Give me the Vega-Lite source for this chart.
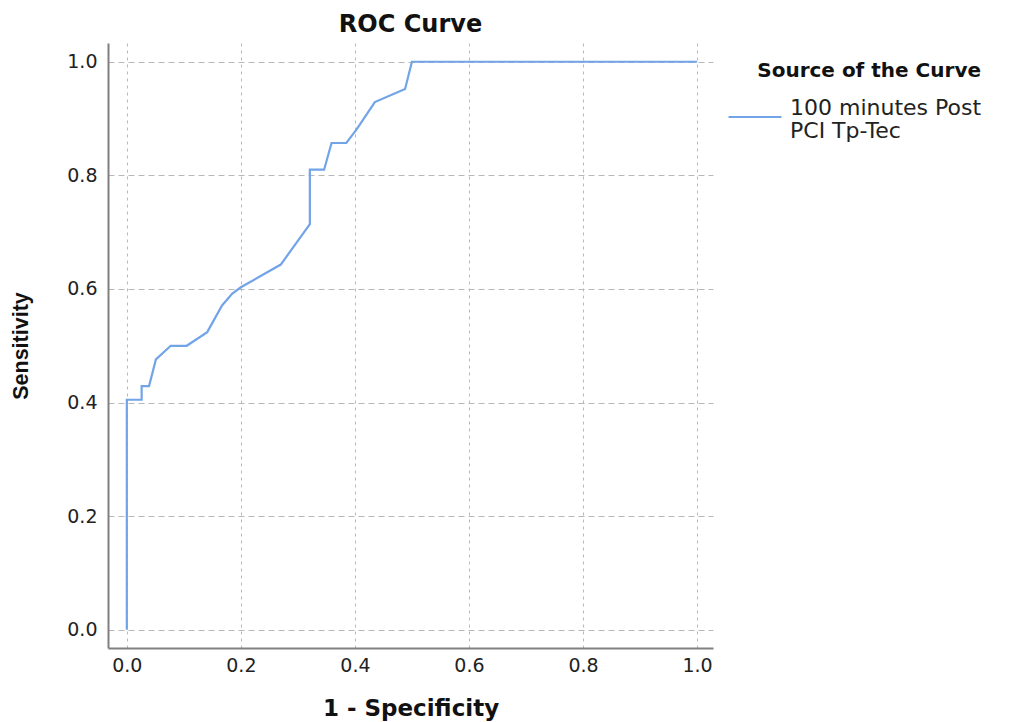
{
  "$schema": "https://vega.github.io/schema/vega-lite/v6.json",
  "width": 605,
  "height": 605,
  "autosize": "none",
  "padding": {"left": 108, "top": 43, "right": 297, "bottom": 74},
  "background": "white",
  "title": {"text": "ROC Curve", "font": "DejaVu Sans", "fontSize": 24, "fontWeight": "bold", "color": "#111", "anchor": "middle", "offset": 6},
  "config": {"view": {"stroke": null}},
  "data": {"values": [
    {"i": 0, "fpr": 0.0, "tpr": 0.0, "source": "100 minutes Post PCI Tp-Tec"},
    {"i": 1, "fpr": 0.0, "tpr": 0.405, "source": "100 minutes Post PCI Tp-Tec"},
    {"i": 2, "fpr": 0.026, "tpr": 0.405, "source": "100 minutes Post PCI Tp-Tec"},
    {"i": 3, "fpr": 0.026, "tpr": 0.429, "source": "100 minutes Post PCI Tp-Tec"},
    {"i": 4, "fpr": 0.039, "tpr": 0.429, "source": "100 minutes Post PCI Tp-Tec"},
    {"i": 5, "fpr": 0.051, "tpr": 0.476, "source": "100 minutes Post PCI Tp-Tec"},
    {"i": 6, "fpr": 0.077, "tpr": 0.5, "source": "100 minutes Post PCI Tp-Tec"},
    {"i": 7, "fpr": 0.105, "tpr": 0.5, "source": "100 minutes Post PCI Tp-Tec"},
    {"i": 8, "fpr": 0.141, "tpr": 0.524, "source": "100 minutes Post PCI Tp-Tec"},
    {"i": 9, "fpr": 0.167, "tpr": 0.571, "source": "100 minutes Post PCI Tp-Tec"},
    {"i": 10, "fpr": 0.185, "tpr": 0.592, "source": "100 minutes Post PCI Tp-Tec"},
    {"i": 11, "fpr": 0.2, "tpr": 0.603, "source": "100 minutes Post PCI Tp-Tec"},
    {"i": 12, "fpr": 0.27, "tpr": 0.643, "source": "100 minutes Post PCI Tp-Tec"},
    {"i": 13, "fpr": 0.321, "tpr": 0.714, "source": "100 minutes Post PCI Tp-Tec"},
    {"i": 14, "fpr": 0.321, "tpr": 0.81, "source": "100 minutes Post PCI Tp-Tec"},
    {"i": 15, "fpr": 0.346, "tpr": 0.81, "source": "100 minutes Post PCI Tp-Tec"},
    {"i": 16, "fpr": 0.359, "tpr": 0.857, "source": "100 minutes Post PCI Tp-Tec"},
    {"i": 17, "fpr": 0.385, "tpr": 0.857, "source": "100 minutes Post PCI Tp-Tec"},
    {"i": 18, "fpr": 0.403, "tpr": 0.881, "source": "100 minutes Post PCI Tp-Tec"},
    {"i": 19, "fpr": 0.435, "tpr": 0.929, "source": "100 minutes Post PCI Tp-Tec"},
    {"i": 20, "fpr": 0.488, "tpr": 0.952, "source": "100 minutes Post PCI Tp-Tec"},
    {"i": 21, "fpr": 0.5, "tpr": 1.0, "source": "100 minutes Post PCI Tp-Tec"},
    {"i": 22, "fpr": 1.0, "tpr": 1.0, "source": "100 minutes Post PCI Tp-Tec"}
  ]},
  "mark": {"type": "line", "strokeWidth": 2.2, "interpolate": "linear"},
  "encoding": {
    "x": {"field": "fpr", "type": "quantitative",
      "scale": {"domain": [-0.033, 1.028], "nice": false, "zero": false},
      "axis": {"title": "1 - Specificity", "values": [0, 0.2, 0.4, 0.6, 0.8, 1.0], "format": ".1f",
        "grid": true, "gridColor": "#b8b8b8", "gridDash": [3, 4], "gridWidth": 1,
        "ticks": false, "domainColor": "#808080", "domainWidth": 2,
        "labelFont": "DejaVu Sans", "labelFontSize": 19, "labelColor": "#222", "labelPadding": 8,
        "titleFont": "DejaVu Sans", "titleFontSize": 23, "titleFontWeight": "bold", "titleColor": "#111", "titlePadding": 22}},
    "y": {"field": "tpr", "type": "quantitative",
      "scale": {"domain": [-0.032, 1.033], "nice": false, "zero": false},
      "axis": {"title": "Sensitivity", "values": [0, 0.2, 0.4, 0.6, 0.8, 1.0], "format": ".1f",
        "grid": true, "gridColor": "#b8b8b8", "gridDash": [6, 4], "gridWidth": 1,
        "ticks": false, "domainColor": "#808080", "domainWidth": 2,
        "labelFont": "DejaVu Sans", "labelFontSize": 19, "labelColor": "#222", "labelPadding": 11,
        "titleFont": "Liberation Sans", "titleFontSize": 21.5, "titleFontWeight": "bold", "titleColor": "#111", "titlePadding": 34}},
    "order": {"field": "i", "type": "quantitative"},
    "color": {"field": "source", "type": "nominal",
      "scale": {"range": ["#72a4e8"]},
      "legend": {"title": "Source of the Curve", "orient": "none", "legendX": 619, "legendY": 18,
        "titleFont": "DejaVu Sans", "titleFontSize": 20, "titleFontWeight": "bold", "titleColor": "#111",
        "titleAnchor": "end", "titlePadding": 8, "titleLimit": 400,
        "symbolType": "stroke", "symbolSize": 2800, "symbolStrokeWidth": 2.2,
        "labelFont": "DejaVu Sans", "labelFontSize": 22, "labelColor": "#222", "labelOffset": 7,
        "labelLimit": 400,
        "labelExpr": "['100 minutes Post', 'PCI Tp-Tec']",
        "encode": {"labels": {"update": {"lineHeight": {"value": 23}, "dy": {"value": -9}}}}}}
  }
}
